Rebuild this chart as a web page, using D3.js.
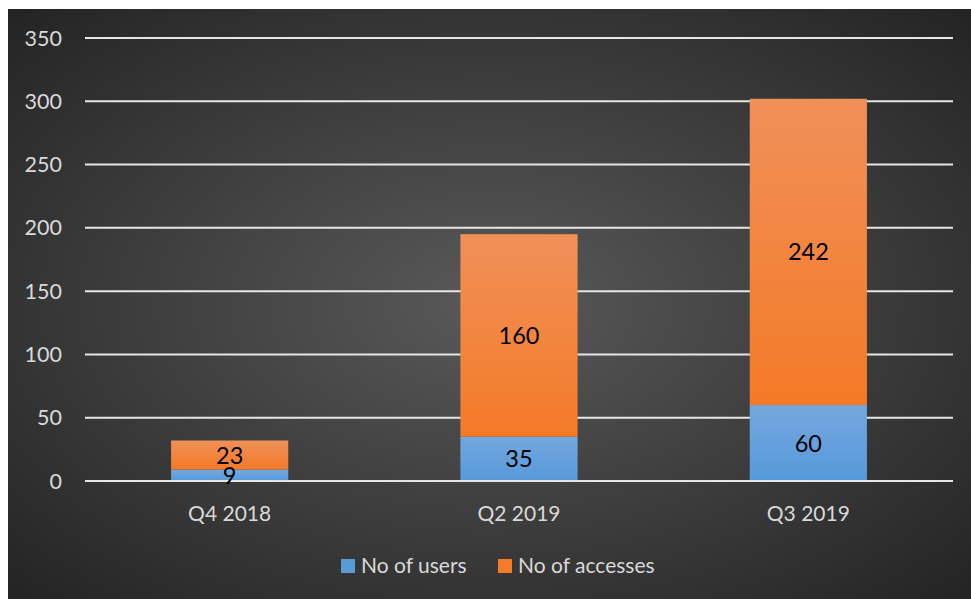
<!DOCTYPE html>
<html>
<head>
<meta charset="utf-8">
<script src="https://cdn.jsdelivr.net/npm/d3@7"></script>
<style>
  body { margin: 0; background: #fff; }
  text { font-family: Lato, "Open Sans", sans-serif; }
</style>
</head>
<body>
<div id="chart"></div>
<script>
// Chart data
var categories = ["Q4 2018", "Q2 2019", "Q3 2019"];
var seriesNames = ["No of users", "No of accesses"];
var users = [9, 35, 60];
var accesses = [23, 160, 242];
var yTicks = [0, 50, 100, 150, 200, 250, 300, 350];

var W = 971, H = 599;
var margin = { top: 38, right: 18, bottom: 118, left: 85 };
var x0 = 8, y0 = 9;

var svg = d3.select("#chart").append("svg")
    .attr("width", W)
    .attr("height", H);

var defs = svg.append("defs");

// Dark radial background
var bg = defs.append("radialGradient")
    .attr("id", "bgGrad")
    .attr("cx", "50%").attr("cy", "50%").attr("r", "70%");
bg.append("stop").attr("offset", "0%").attr("stop-color", "#595959");
bg.append("stop").attr("offset", "100%").attr("stop-color", "#242424");

// Bar gradients, lighter at the top
function barGrad(id, top, bottom) {
  var g = defs.append("linearGradient")
      .attr("id", id)
      .attr("x1", 0).attr("y1", 0).attr("x2", 0).attr("y2", 1);
  g.append("stop").attr("offset", "0%").attr("stop-color", top);
  g.append("stop").attr("offset", "100%").attr("stop-color", bottom);
}
barGrad("gradUsers", "#74a8de", "#5699da");
barGrad("gradAcc", "#f09059", "#f47a27");

svg.append("rect")
    .attr("x", x0).attr("y", y0)
    .attr("width", W - x0).attr("height", H - y0)
    .attr("fill", "url(#bgGrad)");

var x = d3.scaleBand()
    .domain(categories)
    .range([margin.left, 953])
    .paddingInner(0.595)
    .paddingOuter(0.2975);

var y = d3.scaleLinear()
    .domain([0, 350])
    .range([481, 38]);

// Gridlines
svg.append("g")
    .selectAll("line")
    .data(yTicks)
    .enter().append("line")
    .attr("x1", margin.left).attr("x2", 953)
    .attr("y1", d => y(d)).attr("y2", d => y(d))
    .attr("stroke", "#e6e6e6")
    .attr("stroke-width", 2);

// Y tick labels
svg.append("g")
    .selectAll("text")
    .data(yTicks)
    .enter().append("text")
    .attr("x", 62)
    .attr("y", d => y(d) + 7.5)
    .attr("text-anchor", "end")
    .attr("fill", "#d9d9d9")
    .attr("font-size", 21.5)
    .text(d => d);

// Stacked data
var rows = categories.map((c, i) => ({ cat: c, users: users[i], accesses: accesses[i] }));
var stack = d3.stack().keys(["users", "accesses"]);
var layers = stack(rows);
var fills = ["url(#gradUsers)", "url(#gradAcc)"];

layers.forEach(function (layer, li) {
  var g = svg.append("g");
  g.selectAll("rect")
      .data(layer)
      .enter().append("rect")
      .attr("x", d => x(d.data.cat))
      .attr("width", x.bandwidth())
      .attr("y", d => y(d[1]))
      .attr("height", d => y(d[0]) - y(d[1]))
      .attr("fill", fills[li]);
});

// Redraw the baseline over the bars
svg.append("line")
    .attr("x1", margin.left).attr("x2", 953)
    .attr("y1", y(0)).attr("y2", y(0))
    .attr("stroke", "#e6e6e6")
    .attr("stroke-width", 2);

// Value labels
layers.forEach(function (layer) {
  svg.append("g")
      .selectAll("text")
      .data(layer)
      .enter().append("text")
      .attr("x", d => x(d.data.cat) + x.bandwidth() / 2)
      .attr("y", d => (y(d[0]) + y(d[1])) / 2 + 8.5)
      .attr("text-anchor", "middle")
      .attr("fill", "#000")
      .attr("font-size", 23.5)
      .text(d => d[1] - d[0]);
});

// Category labels
svg.append("g")
    .selectAll("text")
    .data(categories)
    .enter().append("text")
    .attr("x", d => x(d) + x.bandwidth() / 2)
    .attr("y", 521)
    .attr("text-anchor", "middle")
    .attr("fill", "#d9d9d9")
    .attr("font-size", 21)
    .text(d => d);

// Legend
var legendX = [341, 498];
var legend = svg.append("g")
    .selectAll("g")
    .data(seriesNames)
    .enter().append("g")
    .attr("transform", (d, i) => "translate(" + legendX[i] + ",559)");
legend.append("rect")
    .attr("width", 14).attr("height", 14)
    .attr("fill", (d, i) => i === 0 ? "#5b9bd5" : "#f47b2a");
legend.append("text")
    .attr("x", 20).attr("y", 14)
    .attr("fill", "#d9d9d9")
    .attr("font-size", 21)
    .text(d => d);
</script>
</body>
</html>
